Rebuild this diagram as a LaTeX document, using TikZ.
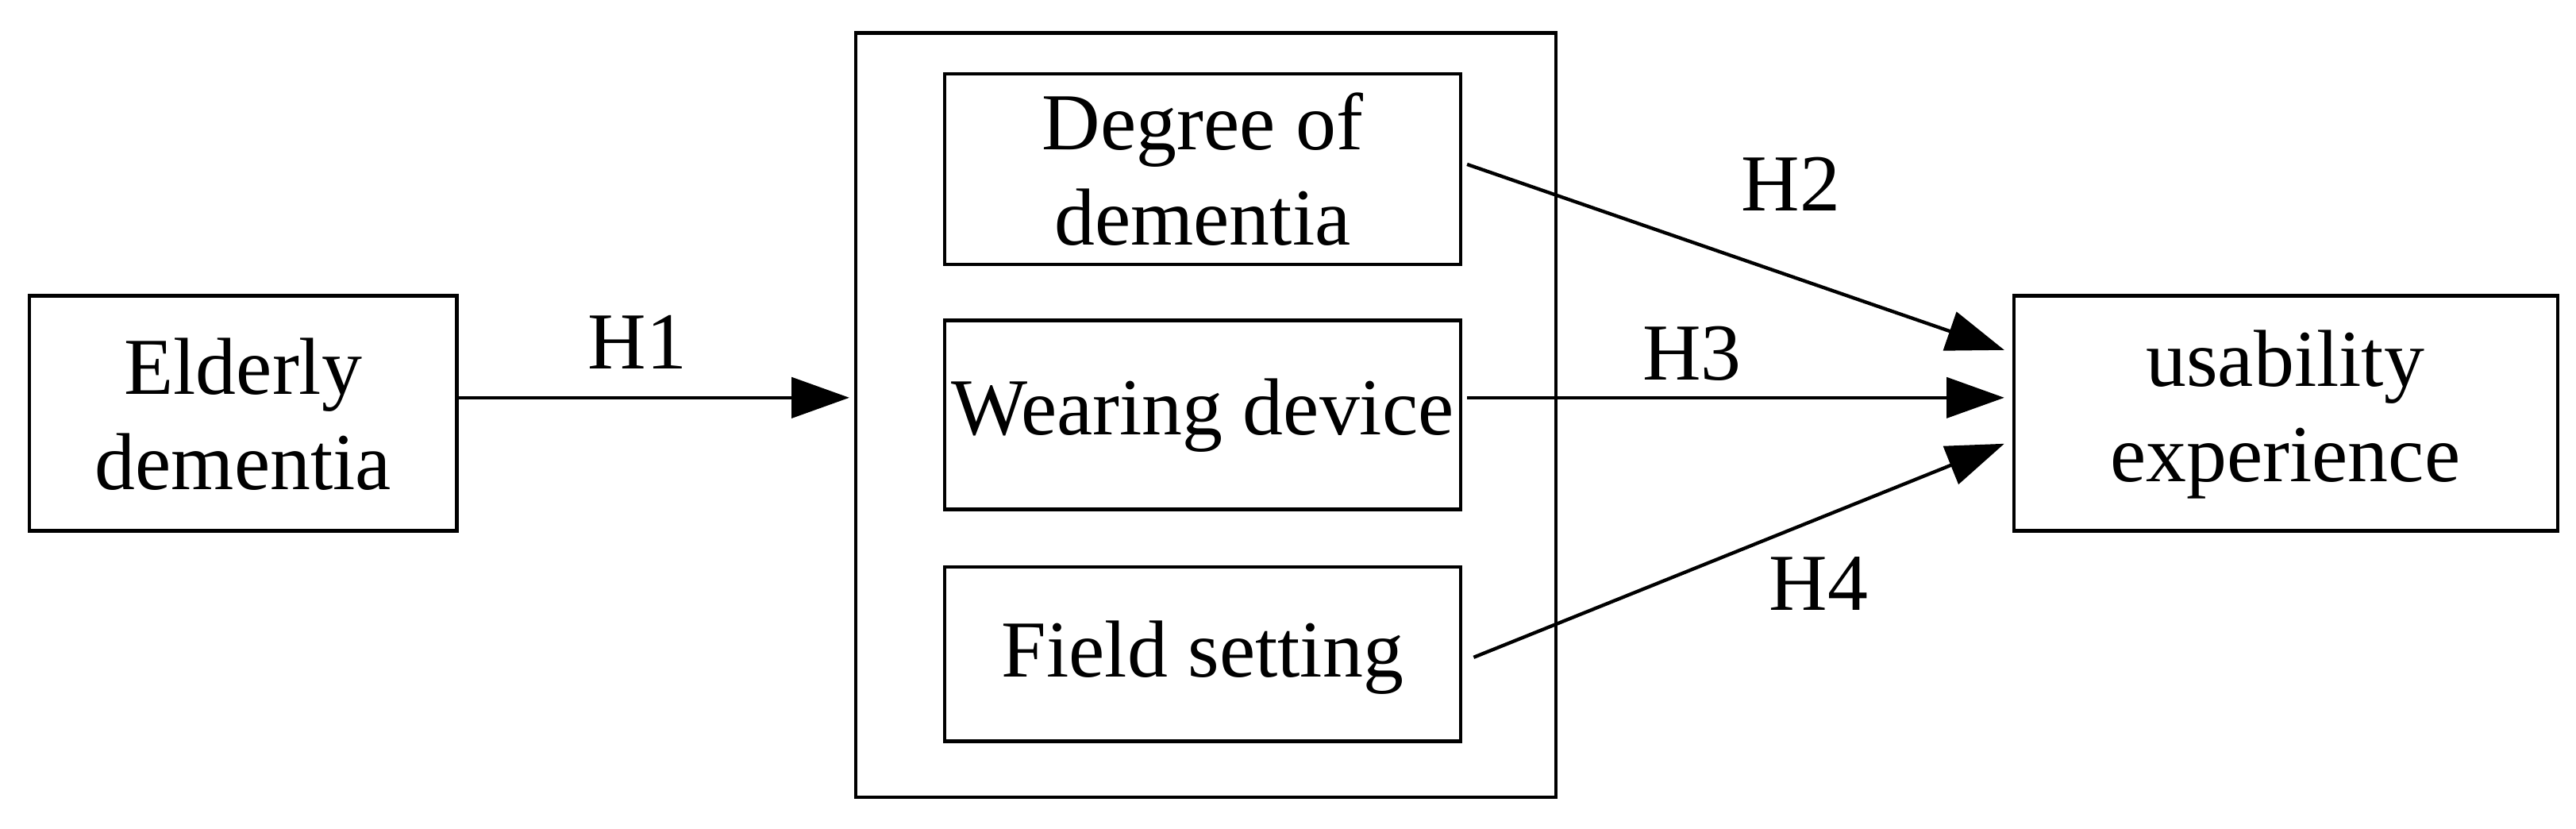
\documentclass[tikz,border=0pt]{standalone}
\usepackage{fontspec}
\setmainfont{Liberation Serif}
\usetikzlibrary{arrows.meta}
\begin{document}
\begin{tikzpicture}[x=0.02cm,y=-0.02cm,
  bx/.style={draw,line width=1.2pt,inner sep=0pt},
  lab/.style={font=\fontsize{28}{33}\selectfont,align=center},
  ar/.style={-{Triangle[length=20pt,width=14pt]},line width=1.2pt}]
\useasboundingbox (0,0) rectangle (1568,504);
\draw[bx] (18,180) rectangle (278,323);
\node[lab] (el) at (148,252) {Elderly\\dementia};
\coordinate (elr) at (278,242);
\draw[bx] (521,20) rectangle (947,485);
\coordinate (outl) at (517,242);
\draw[bx] (575,45) rectangle (889,161);
\node[lab] (dg) at (732,103) {Degree of\\dementia};
\draw[bx] (575,195) rectangle (889,310);
\node[lab] (wd) at (732,253) {Wearing device};
\draw[bx] (575,345) rectangle (889,451);
\node[lab] (fs) at (732,400) {Field setting};
\draw[bx] (1226,180) rectangle (1557,323);
\node[lab] (ux) at (1391,252) {usability\\experience};
\coordinate (d1) at (893,100);
\coordinate (w1) at (893,242);
\coordinate (f1) at (897,400);
\coordinate (t2) at (1220,213);
\coordinate (t3) at (1220,242);
\coordinate (t4) at (1220,270);
\draw[ar] (elr) -- (outl);
\draw[ar] (d1) -- (t2);
\draw[ar] (w1) -- (t3);
\draw[ar] (f1) -- (t4);
\node[lab] (h1) at (388,208) {H1};
\node[lab] (h2) at (1090,112) {H2};
\node[lab] (h3) at (1030,215) {H3};
\node[lab] (h4) at (1107,355) {H4};
\end{tikzpicture}
\end{document}
